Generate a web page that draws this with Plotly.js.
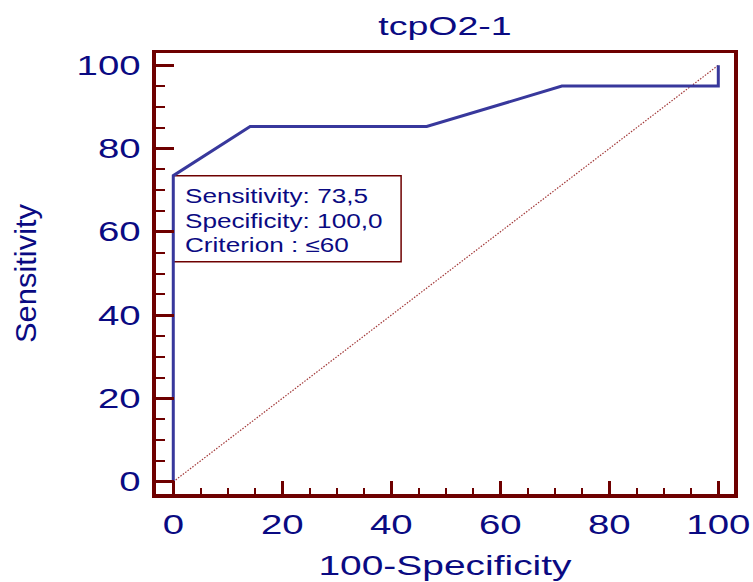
<!DOCTYPE html>
<html><head><meta charset="utf-8">
<script src="https://cdn.plot.ly/plotly-3.0.1.min.js"></script>
<style>html,body{margin:0;padding:0;background:#fff}#chart{width:753px;height:582px}</style>
</head><body><div id="chart"></div>
<script>
// ROC curve data (100-Specificity vs Sensitivity)
const fpr = [0, 0, 14.1, 46.5, 71.3, 100, 100];
const tpr = [0, 73.5, 85.3, 85.3, 95.0, 95.0, 100];
// reference (chance) diagonal
const diagX = [0, 100];
const diagY = [0, 100];
// tick labels
const majorTicks = [0, 20, 40, 60, 80, 100];
const majorLabels = ['0', '20', '40', '60', '80', '100'];
// info box
const infoLines = ['Sensitivity: 73,5', 'Specificity: 100,0', 'Criterion : \u226460'];
const titleText = 'tcpO2-1';
const xTitle = '100-Specificity';
const yTitle = 'Sensitivity';

const navy = '#0a0a82';
const maroon = '#6e0000';
const font = '"Liberation Sans", Arial, Helvetica, sans-serif';

const traces = [
  {x: diagX, y: diagY, mode: 'lines', hoverinfo: 'skip',
   line: {color: '#a33a3a', width: 1.2, dash: '1.5px,1.5px'}},
  {x: fpr, y: tpr, mode: 'lines', hoverinfo: 'skip',
   line: {color: '#38389c', width: 3}}
];

const lineStep = 5.93;
const annotations = infoLines.map((t, i) => ({
  text: t, xref: 'x', yref: 'y', x: 1.8, y: 68.6 - i * lineStep,
  xanchor: 'left', yanchor: 'middle', align: 'left', showarrow: false,
  font: {family: font, size: 19.5, color: navy}
}));

const layout = {
  width: 753, height: 582,
  margin: {l: 156, r: 19, t: 53, b: 88},
  paper_bgcolor: '#fff', plot_bgcolor: '#fff',
  showlegend: false,
  font: {family: font, color: navy},
  title: {text: titleText, font: {family: font, size: 25, color: navy},
          x: 0.5, xref: 'paper', xanchor: 'center', y: 1 - 26 / 582, yref: 'container', yanchor: 'middle'},
  xaxis: {
    range: [-3.17, 102.88], tickmode: 'array', tickvals: majorTicks, ticktext: majorLabels,
    ticks: 'inside', ticklen: 13, tickwidth: 3, tickcolor: maroon,
    showline: true, linecolor: maroon, linewidth: 3.5, mirror: true,
    showgrid: false, zeroline: false,
    tickfont: {family: font, size: 27, color: navy},
    ticklabelstandoff: 4,
    minor: {tickmode: 'linear', tick0: 0, dtick: 5, ticks: 'inside', ticklen: 6, tickwidth: 2, tickcolor: maroon, showgrid: false},
    title: {text: xTitle, font: {family: font, size: 28, color: navy}, standoff: 17},
    automargin: false
  },
  yaxis: {
    range: [-2.95, 102.95], tickmode: 'array', tickvals: majorTicks, ticktext: majorLabels,
    ticks: 'inside', ticklen: 18, tickwidth: 3, tickcolor: maroon,
    showline: true, linecolor: maroon, linewidth: 4, mirror: true,
    showgrid: false, zeroline: false,
    tickfont: {family: font, size: 27, color: navy},
    ticklabelstandoff: 6,
    minor: {tickmode: 'linear', tick0: 0, dtick: 5, ticks: 'inside', ticklen: 9, tickwidth: 2, tickcolor: maroon, showgrid: false},
    title: {text: yTitle, font: {family: font, size: 30, color: navy}, standoff: 51},
    automargin: false
  },
  shapes: [{type: 'rect', xref: 'x', yref: 'y', x0: 0, x1: 41.8, y0: 52.8, y1: 73.5,
            line: {color: maroon, width: 1.5}, fillcolor: '#fff', layer: 'below'}],
  annotations: annotations
};

function stretch(sel, k) {
  document.querySelectorAll(sel).forEach(t => {
    const L = t.getComputedTextLength();
    if (!L) return;
    t.setAttribute('textLength', (L * k).toFixed(1));
    t.setAttribute('lengthAdjust', 'spacingAndGlyphs');
  });
}

Plotly.newPlot('chart', traces, layout, {staticPlot: true, displayModeBar: false}).then(() => {
  stretch('.xtick text', 1.42);
  stretch('.ytick text', 1.42);
  stretch('.gtitle', 1.5);
  stretch('.xtitle', 1.39);
  stretch('.ytitle', 1.03);
  stretch('.annotation-text', 1.34);
});
</script>
</body></html>
